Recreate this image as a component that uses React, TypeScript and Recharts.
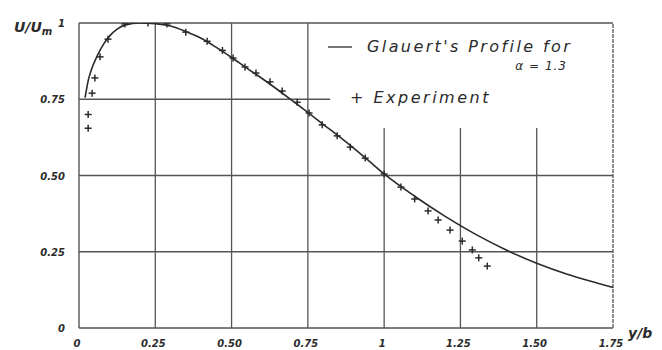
import React from 'react';
import {
  ComposedChart,
  Line,
  Scatter,
  XAxis,
  YAxis,
  ReferenceLine,
  Customized,
} from 'recharts';

document.body.style.margin = '0';

// Glauert's profile, alpha = 1.3
const profileX = [
  0.02, 0.03, 0.04, 0.06, 0.08, 0.1, 0.125, 0.15, 0.2, 0.25, 0.3, 0.35, 0.4,
  0.45, 0.5, 0.55, 0.6, 0.65, 0.7, 0.75, 0.8, 0.85, 0.9, 0.95, 1.0, 1.1, 1.2,
  1.3, 1.4, 1.5, 1.6, 1.7, 1.75,
];
const profileY = [
  0.755, 0.81, 0.845, 0.893, 0.93, 0.957, 0.98, 0.993, 1.0, 0.998, 0.99, 0.972,
  0.95, 0.92, 0.887, 0.852, 0.818, 0.782, 0.745, 0.707, 0.668, 0.63, 0.59,
  0.548, 0.505, 0.432, 0.366, 0.307, 0.256, 0.212, 0.176, 0.147, 0.133,
];

// experiment points
const expX = [
  0.03, 0.03, 0.043, 0.052, 0.069, 0.095, 0.15, 0.226, 0.288, 0.35, 0.42, 0.47,
  0.505, 0.544, 0.58, 0.626, 0.666, 0.715, 0.754, 0.797, 0.846, 0.889, 0.938,
  1.0, 1.055, 1.1, 1.144, 1.177, 1.216, 1.256, 1.289, 1.31, 1.338,
];
const expY = [
  0.655, 0.7, 0.77, 0.82, 0.889, 0.947, 0.997, 1.0, 0.997, 0.97, 0.94, 0.91,
  0.885, 0.856, 0.836, 0.807, 0.777, 0.74, 0.705, 0.666, 0.63, 0.593, 0.557,
  0.505, 0.462, 0.423, 0.384, 0.354, 0.321, 0.285, 0.256, 0.23, 0.203,
];

const xTicks = [0, 0.25, 0.5, 0.75, 1, 1.25, 1.5, 1.75];
const xTickLabels = ['0', '0.25', '0.50', '0.75', '1', '1.25', '1.50', '1.75'];
const yTicks = [0, 0.25, 0.5, 0.75, 1];
const yTickLabels = ['0', '0.25', '0.50', '0.75', '1'];

const profile = profileX.map((x, i) => ({ x, y: profileY[i] }));
const experiment = expX.map((x, i) => ({ x, y: expY[i] }));

const ink = '#2b2b2b';
const gridInk = '#555';
const font = "'DejaVu Sans', sans-serif";

const XTick = ({ x, y, payload }: any) => {
  const i = xTicks.indexOf(payload.value);
  return (
    <text
      x={x - 2}
      y={y + 11}
      textAnchor="middle"
      fontFamily={font}
      fontStyle="italic"
      fontWeight="bold"
      fontSize={10}
      fill={ink}
    >
      {xTickLabels[i]}
    </text>
  );
};

const YTick = ({ x, y, payload }: any) => {
  const i = yTicks.indexOf(payload.value);
  return (
    <text
      x={x - 6}
      y={y + 4}
      textAnchor="end"
      fontFamily={font}
      fontStyle="italic"
      fontWeight="bold"
      fontSize={10}
      fill={ink}
    >
      {yTickLabels[i]}
    </text>
  );
};

const Plus = ({ cx, cy }: any) => (
  <g stroke={ink} strokeWidth={1.5}>
    <line x1={cx - 3.5} y1={cy} x2={cx + 3.5} y2={cy} />
    <line x1={cx} y1={cy - 3.5} x2={cx} y2={cy + 3.5} />
  </g>
);

const Notes = () => (
  <g fontFamily={font} fontStyle="italic" fill={ink}>
    <text x={14} y={32} fontSize={14} fontWeight="bold">
      U/U<tspan fontSize={10} dy={3}>m</tspan>
    </text>
    <text x={628} y={338} fontSize={14} fontWeight="bold">
      y/b
    </text>
    <line x1={328} y1={47} x2={352} y2={47} stroke={ink} strokeWidth={1.3} />
    <text x={367} y={52} fontSize={16} letterSpacing={2.4}>
      Glauert's Profile for
    </text>
    <text x={567} y={70} fontSize={12} textAnchor="end" letterSpacing={1}>
      α = 1.3
    </text>
    <text x={350} y={103} fontSize={16} letterSpacing={2.5}>
      + Experiment
    </text>
  </g>
);

export default function App() {
  return (
    <ComposedChart
      width={662}
      height={350}
      margin={{ top: 23, right: 49, bottom: 0, left: 0 }}
    >
      <XAxis
        type="number"
        dataKey="x"
        domain={[0, 1.75]}
        ticks={xTicks}
        tick={<XTick />}
        tickLine={false}
        axisLine={{ stroke: gridInk, strokeWidth: 1.4 }}
        height={22}
        allowDataOverflow
      />
      <YAxis
        type="number"
        dataKey="y"
        domain={[0, 1]}
        ticks={yTicks}
        tick={<YTick />}
        tickLine={false}
        axisLine={{ stroke: gridInk, strokeWidth: 1.4 }}
        width={79}
        allowDataOverflow
      />
      {[0.25, 0.5, 0.75].map((v) => (
        <ReferenceLine key={'vx' + v} x={v} stroke={gridInk} strokeWidth={1.3} />
      ))}
      {[1, 1.25, 1.5].map((v) => (
        <ReferenceLine
          key={'vs' + v}
          segment={[
            { x: v, y: 0 },
            { x: v, y: 0.656 },
          ]}
          stroke={gridInk}
          strokeWidth={1.3}
        />
      ))}
      <ReferenceLine x={1.75} stroke={gridInk} strokeWidth={1.3} strokeDasharray="4 1" />
      <ReferenceLine y={1} stroke={gridInk} strokeWidth={1.3} />
      {[0.25, 0.5].map((v) => (
        <ReferenceLine key={'hy' + v} y={v} stroke={gridInk} strokeWidth={1.3} />
      ))}
      <ReferenceLine
        segment={[
          { x: 0, y: 0.75 },
          { x: 0.823, y: 0.75 },
        ]}
        stroke={gridInk}
        strokeWidth={1.3}
      />
      <Line
        data={profile}
        dataKey="y"
        type="monotone"
        stroke={ink}
        strokeWidth={1.6}
        dot={false}
        isAnimationActive={false}
      />
      <Scatter
        data={experiment}
        dataKey="y"
        shape={<Plus />}
        isAnimationActive={false}
      />
      <Customized component={<Notes />} />
    </ComposedChart>
  );
}
